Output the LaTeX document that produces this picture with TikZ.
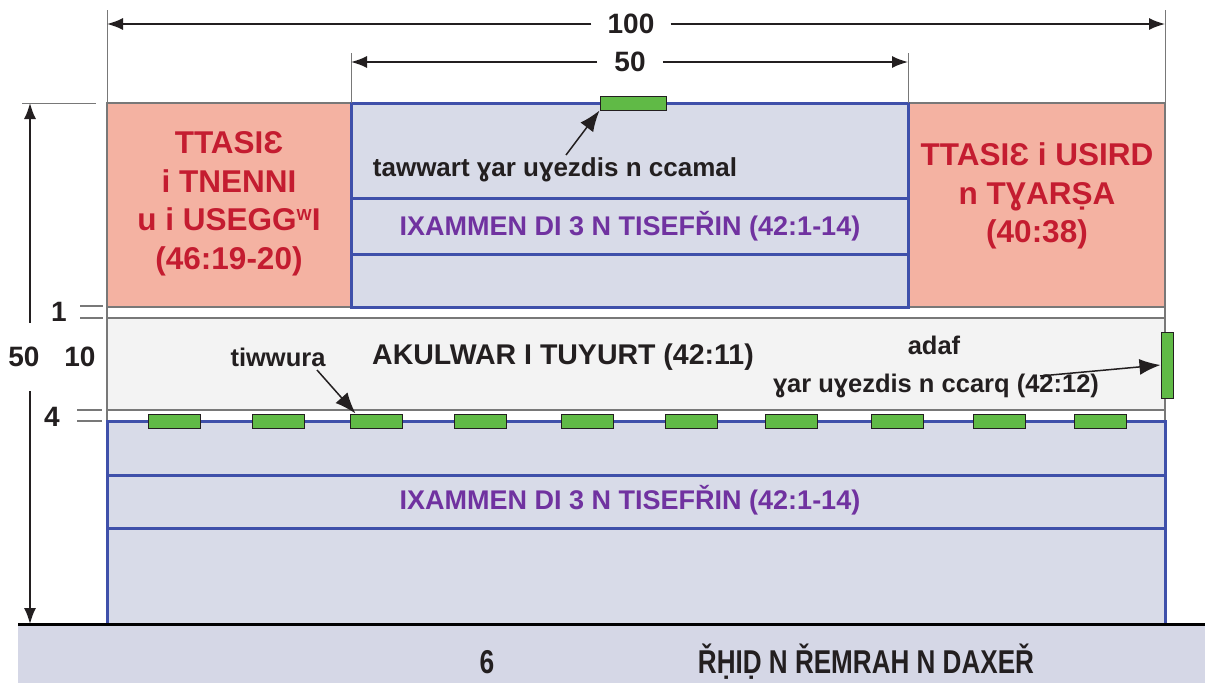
\documentclass[tikz,border=0pt]{standalone}
\usepackage{fontspec}
\setmainfont{Liberation Sans}
\usetikzlibrary{arrows.meta}
\definecolor{salmon}{RGB}{244,178,162}
\definecolor{lav}{RGB}{216,219,232}
\definecolor{bblue}{RGB}{63,80,170}
\definecolor{ggreen}{RGB}{96,186,70}
\definecolor{court}{RGB}{243,243,243}
\definecolor{groundc}{RGB}{213,215,230}
\definecolor{redtxt}{RGB}{196,28,48}
\definecolor{purp}{RGB}{112,50,160}
\definecolor{lgrey}{RGB}{120,120,120}
\definecolor{dgrey}{RGB}{35,31,32}
\begin{document}
\begin{tikzpicture}[x=1pt,y=-1pt,
  boxbase/.style={anchor=north west, inner sep=0pt, outer sep=0pt},
  redbox/.style={boxbase, draw=lgrey, line width=1.2pt, fill=salmon},
  bluebox/.style={boxbase, draw=bblue, line width=3pt, fill=lav},
  bandbox/.style={boxbase, draw=lgrey, line width=1.2pt, fill=court},
  gbox/.style={draw=dgrey, line width=1pt, fill=ggreen, inner sep=0pt, minimum width=52pt, minimum height=14pt},
  divline/.style={draw=bblue, line width=3pt},
  dimline/.style={draw=dgrey, line width=1.6pt},
  dimarrow/.style={dimline, -{Latex[length=16pt,width=12pt]}},
  extline/.style={draw=lgrey, line width=0.9pt},
  ptr/.style={draw=dgrey, line width=1.5pt, -{Latex[length=21pt,width=16pt]}},
  lbl/.style={font=\fontsize{28}{30}\selectfont\bfseries, text=dgrey, inner sep=0pt},
  redtext/.style={font=\fontsize{31.5}{38.5}\selectfont\bfseries, text=redtxt, align=center, inner sep=0pt},
  purtext/.style={font=\fontsize{27}{30}\selectfont\bfseries, text=purp, inner sep=0pt},
  blktext/.style={font=\fontsize{26}{30}\selectfont\bfseries, text=dgrey, inner sep=0pt},
]
\fill[white] (0,0) rectangle (1205,683);
\useasboundingbox (0,0) rectangle (1205,683);
% ground
\node[boxbase, fill=groundc, minimum width=1187pt, minimum height=59pt] (ground) at (18,624) {};
% outer frame
\node[boxbase, draw=lgrey, line width=1.2pt, minimum width=1058pt, minimum height=521pt] (frame) at (107,103) {};
% top row
\node[redbox, minimum width=244pt, minimum height=204pt] (lbox) at (107,103) {};
\node[redbox, minimum width=257pt, minimum height=204pt] (rbox) at (908,103) {};
\node[bluebox, minimum width=557pt, minimum height=204pt] (cbox) at (351,103) {};
\draw[divline] ([yshift=-95pt]cbox.north west) -- ([yshift=-95pt]cbox.north east);
\draw[divline] ([yshift=-151pt]cbox.north west) -- ([yshift=-151pt]cbox.north east);
% courtyard band
\node[bandbox, minimum width=1058pt, minimum height=92pt] (band) at (107,318) {};
% lower box
\node[bluebox, minimum width=1058pt, minimum height=203pt] (lowbox) at (107,421) {};
\draw[divline] ([yshift=-54pt]lowbox.north west) -- ([yshift=-54pt]lowbox.north east);
\draw[divline] ([yshift=-107pt]lowbox.north west) -- ([yshift=-107pt]lowbox.north east);
% ground line
\draw[line width=3pt] (ground.north west) -- (ground.north east);
% green elements
\foreach \x [count=\i] in {174,278,376,480,587,691,791,897,999,1100}
  \node[gbox] (g\i) at (\x,421) {};
\node[gbox, minimum width=66pt, minimum height=14pt] (gtop) at (633,103) {};
\node[gbox, minimum width=12pt, minimum height=66pt] (gside) at (1167,365) {};
% texts
\node[redtext] (ltxt) at (229,204) {TTASIƐ\\i TNENNI\\u i USEGG\raisebox{0.33em}{\fontsize{16}{16}\selectfont W}I\\(46:19-20)};
\node[redtext] (rtxt) at (1037,196) {TTASIƐ i USIRD\\n TƔARṢA\\(40:38)};
\node[blktext] (tawwart) at (555,170) {tawwart ɣar uɣezdis n ccamal};
\node[purtext] (ix1) at (630,226) {IXAMMEN DI 3 N TISEFŘIN (42:1-14)};
\node[purtext] (ix2) at (630,500) {IXAMMEN DI 3 N TISEFŘIN (42:1-14)};
\node[blktext, font=\fontsize{25.5}{30}\selectfont\bfseries] (tiwwura) at (278,357) {tiwwura};
\node[lbl, font=\fontsize{28.5}{30}\selectfont\bfseries] (akul) at (563,357) {AKULWAR I TUYURT (42:11)};
\node[blktext, font=\fontsize{25.5}{30}\selectfont\bfseries] (adaf) at (934,345) {adaf};
\node[blktext, font=\fontsize{25.5}{30}\selectfont\bfseries] (ccarq) at (936,386) {ɣar uɣezdis n ccarq (42:12)};
\node[lbl, font=\fontsize{33}{34}\selectfont\bfseries] (six) at (487,662) {\scalebox{0.8}[1]{6}};
\node[lbl, font=\fontsize{33}{34}\selectfont\bfseries] (rhid) at (866,662) {\scalebox{0.79}[1]{ŘḤIḌ N ŘEMRAH N DAXEŘ}};
% pointers
\coordinate (t1) at (566,155);
\coordinate (t2) at (317,370);
\coordinate (t3) at (1040,376);
\draw[ptr] (t1) -- (gtop.south west);
\draw[ptr] (t2) -- ([xshift=6pt]g3.north west);
\draw[ptr] (t3) -- (gside.west);
% horizontal dimensions
\node[lbl, inner xsep=16pt, inner ysep=2pt] (n100) at (631,24) {100};
\node[lbl, inner xsep=17pt, inner ysep=2pt] (n50) at (630,62) {50};
\draw[extline] (lbox.north west) -- ++(0,-93);
\draw[extline] (rbox.north east) -- ++(0,-93);
\draw[extline] (cbox.north west) -- ++(0,-50);
\draw[extline] (cbox.north east) -- ++(0,-50);
\draw[dimarrow] (n100.west) -- (n100.west -| lbox.north west);
\draw[dimarrow] (n100.east) -- (n100.east -| rbox.north east);
\draw[dimarrow] (n50.west) -- (n50.west -| cbox.north west);
\draw[dimarrow] (n50.east) -- (n50.east -| cbox.north east);
% vertical dimension
\coordinate (vtop) at (30,103);
\coordinate (vbot) at (30,624);
\node[lbl, inner xsep=0pt, inner ysep=24pt] (v50) at (24,357) {50};
\node[lbl] (v10) at (80,357) {10};
\draw[dimarrow] (vtop |- v50.north) -- (vtop);
\draw[dimarrow] (vbot |- v50.south) -- (vbot);
\draw[extline] ([xshift=-8pt]vtop) -- ([xshift=66pt]vtop);
% layer marks
\node[lbl] (m1) at (59,312) {1};
\node[lbl] (m4) at (52,417) {4};
\draw[extline, line width=1.3pt] ([xshift=-27pt,yshift=1pt]lbox.south west) -- ([xshift=-4pt,yshift=1pt]lbox.south west);
\draw[extline, line width=1.3pt] ([xshift=-27pt]band.north west) -- ([xshift=-4pt]band.north west);
\draw[extline, line width=1.3pt] ([xshift=-30pt]band.south west) -- ([xshift=-5pt]band.south west);
\draw[extline, line width=1.3pt] ([xshift=-30pt]lowbox.north west) -- ([xshift=-5pt]lowbox.north west);
\end{tikzpicture}
\end{document}
